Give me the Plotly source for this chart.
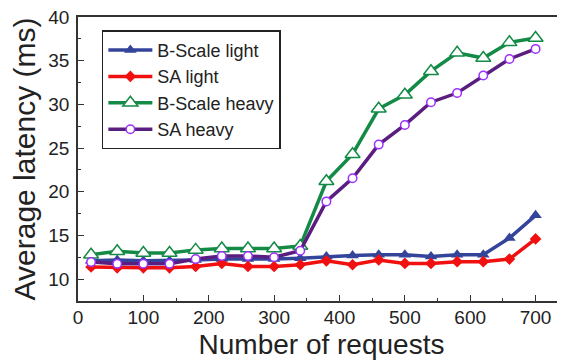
import plotly.graph_objects as go

requests = [20, 60, 100, 140, 180, 220, 260, 300, 340, 380, 420, 460, 500, 540, 580, 620, 660, 700]

bscale_light = [12.1, 12.2, 12.1, 12.1, 12.2, 12.3, 12.3, 12.3, 12.4, 12.6, 12.7, 12.8, 12.8, 12.6, 12.8, 12.8, 14.7, 17.3]
sa_light = [11.4, 11.3, 11.3, 11.3, 11.45, 11.8, 11.45, 11.45, 11.65, 12.1, 11.65, 12.2, 11.8, 11.8, 12.0, 12.0, 12.3, 14.6]
bscale_heavy = [12.8, 13.2, 13.0, 13.0, 13.35, 13.5, 13.5, 13.5, 13.8, 21.2, 24.3, 29.5, 31.1, 33.8, 35.9, 35.3, 37.1, 37.6]
sa_heavy = [11.95, 11.75, 11.75, 11.75, 12.3, 12.65, 12.65, 12.5, 13.25, 18.9, 21.55, 25.4, 27.65, 30.25, 31.3, 33.3, 35.2, 36.35]

x_ticks = [0, 100, 200, 300, 400, 500, 600, 700]
y_ticks = [10, 15, 20, 25, 30, 35, 40]

FONT = "Arial, Liberation Sans, sans-serif"

fig = go.Figure()
fig.add_trace(go.Scatter(
    x=requests, y=bscale_light, name="B-Scale light", mode="lines+markers",
    line=dict(color="#34449A", width=3.5),
    marker=dict(symbol="triangle-up", size=11, color="#34449A"),
))
fig.add_trace(go.Scatter(
    x=requests, y=sa_light, name="SA light", mode="lines+markers",
    line=dict(color="#F01010", width=3.5),
    marker=dict(symbol="diamond", size=9, color="#F01010"),
))
fig.add_trace(go.Scatter(
    x=requests, y=bscale_heavy, name="B-Scale heavy", mode="lines+markers",
    line=dict(color="#138A45", width=3.5),
    marker=dict(symbol="triangle-up", size=13, color="white",
                line=dict(color="#138A45", width=1.5)),
))
fig.add_trace(go.Scatter(
    x=requests, y=sa_heavy, name="SA heavy", mode="lines+markers",
    line=dict(color="#5A1E80", width=3.5),
    marker=dict(symbol="circle", size=8.5, color="white",
                line=dict(color="#9B30FF", width=1.5)),
))

# The page body has an 8px default margin, so the figure is shrunk by 8px
fig.update_layout(
    width=557, height=352,
    margin=dict(l=70, r=0, t=9, b=59),
    paper_bgcolor="white", plot_bgcolor="white",
    font=dict(family=FONT, color="#222222", size=19),
    showlegend=True,
    legend=dict(
        x=0.049, y=0.953, xanchor="left", yanchor="top",
        bordercolor="#222222", borderwidth=1.5, bgcolor="white",
        font=dict(family=FONT, size=18, color="#222222"),
        tracegroupgap=0, itemwidth=44,
    ),
)
fig.update_xaxes(
    range=[0, 745], tickvals=x_ticks, ticktext=[str(v) for v in x_ticks],
    showline=True, linecolor="#333333", linewidth=1.5, mirror=True,
    ticks="inside", ticklen=6, tickwidth=1.3, tickcolor="#333333",
    minor=dict(ticks="inside", ticklen=3, tickwidth=1.3, tickcolor="#333333", dtick=50, tick0=0),
    showgrid=False, zeroline=False,
    tickfont=dict(size=19),
    ticklabelstandoff=-2, ticklabeloverflow="allow",
    title=dict(text="Number of requests", font=dict(size=28), standoff=13),
)
fig.update_yaxes(
    range=[7.5, 40.001], tickvals=y_ticks, ticktext=[str(v) for v in y_ticks],
    showline=True, linecolor="#333333", linewidth=1.5, mirror=False,
    ticks="inside", ticklen=6, tickwidth=1.3, tickcolor="#333333",
    minor=dict(ticks="inside", ticklen=3, tickwidth=1.3, tickcolor="#333333", dtick=2.5, tick0=0),
    showgrid=False, zeroline=False,
    tickfont=dict(size=19),
    ticklabelstandoff=3, ticklabeloverflow="allow",
    title=dict(text="Average latency (ms)", font=dict(size=30), standoff=10),
)

fig.write_html("out.html")
